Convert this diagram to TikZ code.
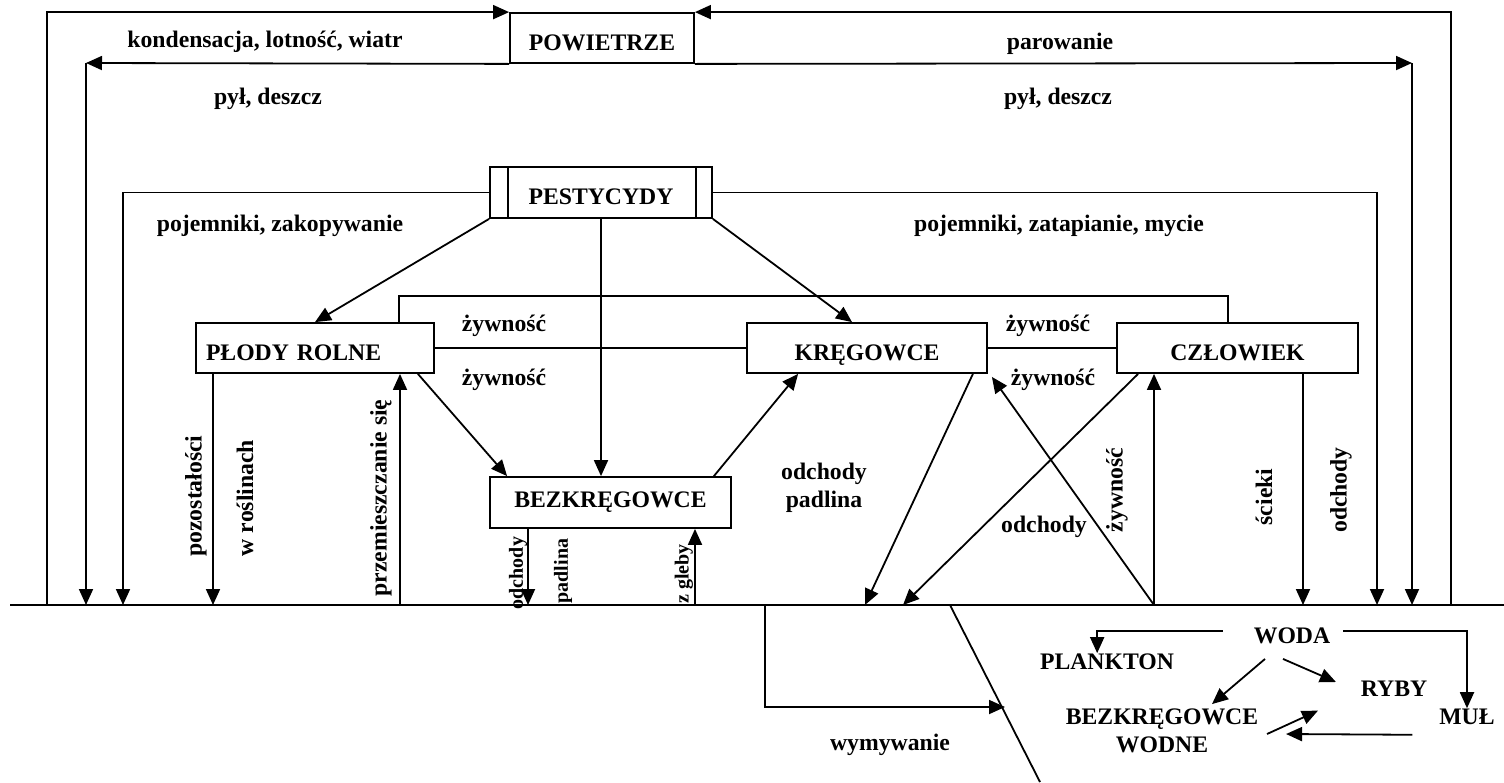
\documentclass[tikz,border=0pt]{standalone}
\usepackage{fontspec}
\setmainfont{Liberation Serif}
\usetikzlibrary{arrows.meta,calc}
\newcommand\lblfont{\fontsize{23.7}{28}\selectfont\bfseries}
\newcommand\smlfont{\fontsize{20}{24}\selectfont\bfseries}
\begin{document}
\begin{tikzpicture}[x=1pt,y=-1pt,line width=1.8pt,
  arr/.style={-{Triangle[length=16pt,width=14pt]}},
  box/.style={draw,minimum height=50pt,inner sep=0pt,font=\lblfont},
  low/.style={text height=24pt,text depth=0pt},
  lbl/.style={font=\lblfont,inner sep=0pt},
  vlbl/.style={font=\lblfont,inner sep=0pt,rotate=90},
  slbl/.style={font=\smlfont,inner sep=0pt,rotate=90}]
\useasboundingbox (0,0) rectangle (1504,782);
\fill[white] (0,0) rectangle (1504,782);

% ---------- boxes ----------
\node[box,low,minimum width=184pt] (pow) at (602,38) {POWIETRZE};
\node[box,low,minimum width=222pt,minimum height=51pt] (pest) at (601,192.5) {PESTYCYDY};
\draw ($(pest.north west)+(19,0)$) -- ($(pest.south west)+(19,0)$);
\draw ($(pest.north east)+(-17,0)$) -- ($(pest.south east)+(-17,0)$);
\node[box,low,text width=218pt,inner xsep=10pt,align=left] (plody) at (315,348) {PŁODY ROLNE};
\node[box,low,minimum width=240pt] (kreg) at (867,348) {KRĘGOWCE};
\node[box,low,minimum width=241pt] (czl) at (1237.5,348) {CZŁOWIEK};
\node[box,minimum width=241pt,minimum height=51pt] (bez) at (610.5,502.5) {BEZKRĘGOWCE};

% ---------- ground ----------
\coordinate (gs) at (10,605);
\coordinate (ge) at (1504,605);
\draw (gs) -- (ge);

% ---------- air cycle ----------
\coordinate (gL) at (47,605);
\coordinate (gR) at (1451,605);
\draw[arr] (gL) |- (pow.north west);
\draw[arr] (gR) |- (pow.north east);
\coordinate (c1) at (86,63);
\coordinate (g1) at (86,605);
\draw[arr] (pow.south west) -- (c1);
\draw[arr] (c1) -- (g1);
\coordinate (c2) at (1412,63);
\coordinate (g2) at (1412,605);
\draw[arr] (pow.south east) -- (c2);
\draw[arr] (c2) -- (g2);

% ---------- pesticides ----------
\coordinate (g3) at (123,605);
\coordinate (g4) at (1377,605);
\draw[arr] (pest.west) -| (g3);
\draw[arr] (pest.east) -| (g4);
\draw[arr] (pest.south west) -- (plody.north);
\draw[arr] (pest.south east) -- ($(kreg.north)+(-15,0)$);
\draw[arr] (pest.south) -- (pest.south |- bez.north);

% ---------- food links ----------
\draw (plody.east) -- (kreg.west);
\draw (kreg.east) -- (czl.west);
\coordinate (b1) at (399,296);
\coordinate (b2) at (1228,296);
\draw (plody.north -| b1) |- (b2) -- (czl.north -| b2);

% ---------- crops / invertebrates ----------
\draw[arr] ($(plody.south east)+(-17,0)$) -- ($(bez.north west)+(18,0)$);
\coordinate (g5) at (400,605);
\draw[arr] (g5) -- (g5 |- plody.south);
\coordinate (g6) at (213,605);
\draw[arr] (plody.south -| g6) -- (g6);
\draw[arr] ($(bez.north east)+(-18,0)$) -- ($(kreg.south west)+(52,0)$);
\coordinate (g7) at (528,605);
\draw[arr] (bez.south -| g7) -- (g7);
\coordinate (g8) at (695,605);
\draw[arr] (g8) -- (bez.south -| g8);

% ---------- vertebrates / humans ----------
\coordinate (g9) at (865,605);
\draw[arr] ($(kreg.south east)+(-15,0)$) -- (g9);
\coordinate (g10) at (903,605);
\draw[arr] ($(czl.south west)+(22,0)$) -- (g10);
\coordinate (g11) at (1154,605);
\draw[arr] (g11) -- ($(kreg.south east)+(4,3)$);
\draw[arr] (g11) -- (czl.south -| g11);
\coordinate (g12) at (1303,605);
\draw[arr] (czl.south -| g12) -- (g12);

% ---------- below ground ----------
\coordinate (w1) at (765,605);
\coordinate (w2) at (1005,707);
\draw[arr] (w1) |- (w2);
\coordinate (d1) at (950,605);
\coordinate (d2) at (1040,782);
\draw (d1) -- (d2);

\node[lbl] (woda) at (1292,636) {WODA};
\node[lbl] (plank) at (1107,662) {PLANKTON};
\node[lbl] (ryby) at (1394,689) {RYBY};
\node[lbl] (mul) at (1467,717) {MUŁ};
\node[lbl,align=center] (bw) at (1162,731) {BEZKRĘGOWCE\\WODNE};
\draw[arr] ($(woda.west)+(-30,-5)$) -| ($(plank.north west)+(58,0)$);
\draw[arr] ($(woda.east)+(12,-5)$) -| (mul.north);
\draw[arr] ($(woda.south)+(-9,14)$) -- ($(ryby.west)+(-24,-7)$);
\draw[arr] ($(woda.south)+(-27,14)$) -- ($(bw.north)+(50,-4)$);
\draw[arr] ($(bw.east)+(8,3)$) -- ($(ryby.south west)+(-42,13)$);
\draw[arr] ($(mul.south west)+(-26,9)$) -- ($(bw.east)+(27,3)$);

% ---------- labels ----------
\node[lbl] (t1) at (265,42) {kondensacja, lotność, wiatr};
\node[lbl] (t2) at (1060,44) {parowanie};
\node[lbl] (t3) at (268,99) {pył, deszcz};
\node[lbl] (t4) at (1058,99) {pył, deszcz};
\node[lbl] (t5) at (280,226) {pojemniki, zakopywanie};
\node[lbl] (t6) at (1059,226) {pojemniki, zatapianie, mycie};
\node[lbl] (t7) at (504,326) {żywność};
\node[lbl] (t8) at (504,380) {żywność};
\node[lbl] (t9) at (1048,326) {żywność};
\node[lbl] (t10) at (1053,380) {żywność};
\node[lbl,align=center] (t11) at (824,488) {odchody\\padlina};
\node[lbl] (t12) at (1044,527) {odchody};
\node[lbl] (t13) at (890,745) {wymywanie};
\node[vlbl] (t14) at (1117,490) {żywność};
\node[vlbl] (t15) at (1264,497) {ścieki};
\node[vlbl] (t16) at (1341,490) {odchody};
\node[vlbl] (t17) at (196,496) {pozostałości};
\node[vlbl] (t18) at (245,498) {w roślinach};
\node[vlbl] (t19) at (381,498) {przemieszczanie się};
\node[slbl] (t20) at (518,573) {odchody};
\node[slbl] (t21) at (563,571) {padlina};
\node[slbl] (t22) at (684,574) {z gleby};
\end{tikzpicture}
\end{document}
